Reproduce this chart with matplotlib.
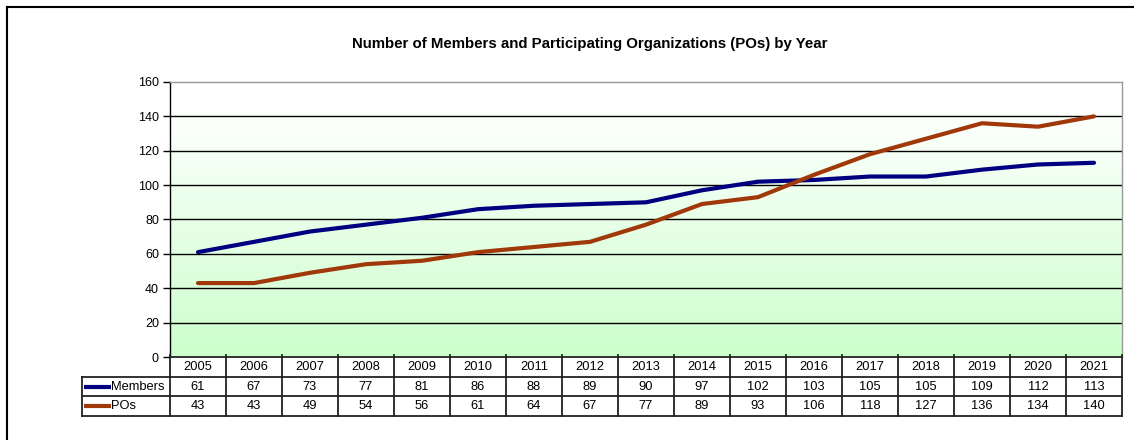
import matplotlib
matplotlib.use("Agg")
import matplotlib.pyplot as plt
import numpy as np
from matplotlib.lines import Line2D
from matplotlib.colors import LinearSegmentedColormap

plt.rcParams['font.family'] = ['Liberation Sans', 'DejaVu Sans']

years = ['2005', '2006', '2007', '2008', '2009', '2010', '2011', '2012', '2013',
         '2014', '2015', '2016', '2017', '2018', '2019', '2020', '2021']
members = [61, 67, 73, 77, 81, 86, 88, 89, 90, 97, 102, 103, 105, 105, 109, 112, 113]
pos = [43, 43, 49, 54, 56, 61, 64, 67, 77, 89, 93, 106, 118, 127, 136, 134, 140]
series_names = ['Members', 'POs']
series_values = [members, pos]
series_colors = ['#000080', '#A0380A']
title = 'Number of Members and Participating Organizations (POs) by Year'

W, H = 1134, 440
fig = plt.figure(figsize=(W / 100, H / 100), dpi=100)

# outer border (top & left visible)
fig.add_artist(Line2D([7 / W, 7 / W], [0, 1 - 7 / H], color='black', lw=1.5, transform=fig.transFigure))
fig.add_artist(Line2D([7 / W, 1], [1 - 7 / H, 1 - 7 / H], color='black', lw=1.5, transform=fig.transFigure))

L, R, T, B = 170, 1122, 82, 357
ax = fig.add_axes([L / W, 1 - B / H, (R - L) / W, (B - T) / H])
n = len(years)
x = np.arange(n)
ax.set_xlim(-0.5, n - 0.5)
ax.set_ylim(0, 160)

# gradient background
grad = np.linspace(0, 1, 256).reshape(-1, 1)
cmap = LinearSegmentedColormap.from_list('g', ['#ccffcc', '#ffffff'])
ax.imshow(grad, aspect='auto', cmap=cmap, extent=(-0.5, n - 0.5, 0, 145), origin='lower', zorder=0)

for yv in range(20, 160, 20):
    ax.axhline(yv, color='black', lw=1.0, zorder=1)

for vals, c in zip(series_values, series_colors):
    ax.plot(x, vals, color=c, lw=3, solid_capstyle='round', zorder=3)

ax.set_yticks(range(0, 161, 20))
ax.tick_params(axis='y', direction='out', length=5, width=1, labelsize=9, pad=3)
ax.set_xticks([])
for s in ['top', 'right']:
    ax.spines[s].set_color('#999999')
    ax.spines[s].set_linewidth(1)
ax.spines['left'].set_color('black')
ax.spines['left'].set_linewidth(1)
ax.spines['bottom'].set_visible(False)

fig.text(590 / W, 1 - 44 / H, title, ha='center', va='center', fontsize=10.8, fontweight='bold')

# data table
TL, TB = 82, 416
label_w_units = (L - TL) / ((R - L) / n)
tax = fig.add_axes([TL / W, 1 - TB / H, (R - TL) / W, (TB - B) / H])
tax.set_xlim(-0.5 - label_w_units, n - 0.5)
tax.set_ylim(0, 3)
tax.axis('off')
lw = 1.3
kw = dict(color='#222222', lw=lw, clip_on=False, solid_capstyle='projecting')
tax.plot([-0.5, n - 0.5], [3, 3], **kw)
for yy in [2, 1, 0]:
    tax.plot([-0.5 - label_w_units, n - 0.5], [yy, yy], **kw)
for i in range(n + 1):
    tax.plot([i - 0.5, i - 0.5], [0, 3.08], **kw)
tax.plot([-0.5 - label_w_units] * 2, [0, 2], **kw)
for i, yr in enumerate(years):
    tax.text(i, 2.5, yr, ha='center', va='center', fontsize=9.3)
for r, (name, vals, c) in enumerate(zip(series_names, series_values, series_colors)):
    yc = 1.5 - r
    for i, v in enumerate(vals):
        tax.text(i, yc, str(v), ha='center', va='center', fontsize=9.3)
    x0 = -0.5 - label_w_units
    tax.plot([x0 + 0.04, x0 + 0.52], [yc, yc], color=c, lw=3, solid_capstyle='butt')
    tax.text(x0 + 0.52, yc, name, ha='left', va='center', fontsize=9.3)

fig.savefig('out.png', dpi=100)
